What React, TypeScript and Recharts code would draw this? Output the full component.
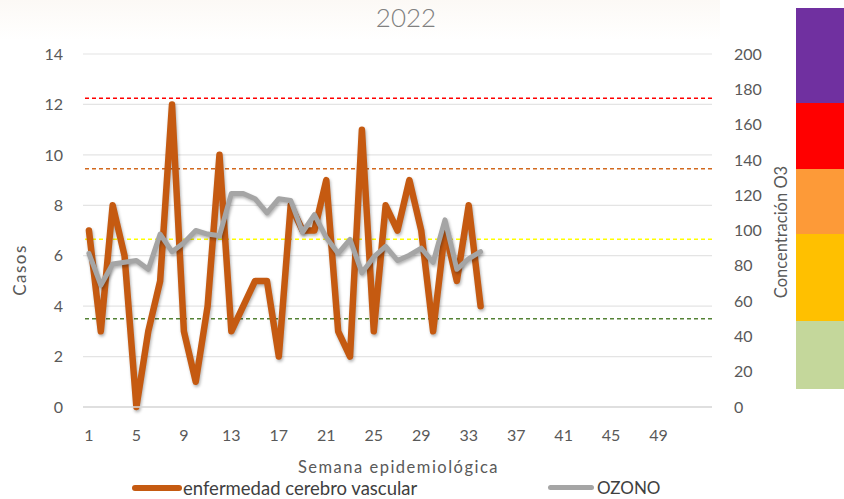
import React from 'react';
import {
  ComposedChart,
  Line,
  XAxis,
  YAxis,
  CartesianGrid,
  ReferenceLine,
  Legend,
} from 'recharts';

// semana epidemiológica 2022
const semanas = [
  1, 2, 3, 4, 5, 6, 7, 8, 9, 10, 11, 12, 13, 14, 15, 16, 17,
  18, 19, 20, 21, 22, 23, 24, 25, 26, 27, 28, 29, 30, 31, 32, 33, 34,
];
const casos = [
  7, 3, 8, 6, 0, 3, 5, 12, 3, 1, 4, 10, 3, 4, 5, 5, 2,
  8, 7, 7, 9, 3, 2, 11, 3, 8, 7, 9, 7, 3, 7, 5, 8, 4,
];
const ozono = [
  87, 69, 81, 82, 83, 78, 98, 88, 93, 100, 98, 97, 121, 121, 118, 110, 118,
  117, 99, 109, 96, 87, 95, 76, 85, 91, 83, 86, 90, 82, 106, 78, 84, 88,
];

const ticksSemana = [1, 5, 9, 13, 17, 21, 25, 29, 33, 37, 41, 45, 49];
const ticksCasos = [0, 2, 4, 6, 8, 10, 12, 14];
const ticksO3 = [0, 20, 40, 60, 80, 100, 120, 140, 160, 180, 200];

// límites de concentración O3 (líneas punteadas)
const limitesO3 = [50, 95, 135, 175];
const coloresLimites = ['#548235', '#ffff00', '#d2691e', '#ff0000'];

// barra de colores a la derecha (bordes en unidades de O3)
const bordesBarra = [10, 49, 98, 135, 172, 226];
const coloresBarra = ['#c4d79b', '#ffc000', '#fd9a38', '#ff0000', '#7030a0'];

const data = semanas.map((s, i) => ({ semana: s, casos: casos[i], ozono: ozono[i] }));

const fuente = 'Lato, "Noto Sans", sans-serif';
const gris = '#595959';

// y de la escala derecha (0 -> 407, 200 -> 54)
const yO3 = (v: number) => 407 - (v * 353) / 200;

const LeyendaCustom = () => (
  <div style={{ position: 'relative', width: 844, height: 22, fontFamily: fuente, fontSize: 18.5, color: '#404040' }}>
    <div style={{ position: 'absolute', left: 132, top: 8, width: 50, height: 6, borderRadius: 3, background: '#c55a11' }} />
    <span style={{ position: 'absolute', left: 183, top: 0, lineHeight: '22px' }}>enfermedad cerebro vascular</span>
    <div style={{ position: 'absolute', left: 548, top: 8, width: 46, height: 5, borderRadius: 3, background: '#a5a5a5' }} />
    <span style={{ position: 'absolute', left: 597, top: 0, lineHeight: '22px', fontSize: 17 }}>OZONO</span>
  </div>
);

export default function App() {
  return (
    <div style={{ position: 'absolute', left: 0, top: 0, width: 844, height: 499, background: '#fff', overflow: 'hidden' }}>
      <style>{`.sombra .recharts-curve { filter: drop-shadow(1.5px 2px 1.5px rgba(0,0,0,0.3)); }`}</style>
      <div style={{ position: 'absolute', left: 0, top: 0, width: 720, height: 40, background: 'linear-gradient(#faf5ef, #ffffff)', opacity: 0.6 }} />
      <div
        style={{
          position: 'absolute', left: 0, width: 812, top: 0, height: 34, lineHeight: '34px',
          textAlign: 'center', fontFamily: fuente, fontWeight: 300, fontSize: 26, color: '#808080',
        }}
      >
        2022
      </div>
      {coloresBarra.map((c, i) => (
        <div
          key={c}
          style={{
            position: 'absolute', left: 796, width: 48,
            top: yO3(bordesBarra[i + 1]), height: yO3(bordesBarra[i]) - yO3(bordesBarra[i + 1]),
            background: c,
          }}
        />
      ))}
      <ComposedChart
        width={844}
        height={499}
        data={data}
        margin={{ top: 54, right: 48, bottom: 0, left: 0 }}
        style={{ position: 'absolute', left: 0, top: 0 }}
      >
        <CartesianGrid vertical={false} yAxisId="casos" stroke="#e4e4e4" strokeWidth={1.2} />
        <XAxis
          dataKey="semana"
          type="number"
          domain={[0.5, 53.5]}
          ticks={ticksSemana}
          interval={0}
          tickLine={false}
          tickSize={0}
          tickMargin={23}
          axisLine={{ stroke: '#d9d9d9', strokeWidth: 1.5 }}
          tick={{ fill: gris, fontSize: 16, fontFamily: fuente }}
          height={70}
          label={{
            content: ({ viewBox }: any) => (
              <text
                x={viewBox.x + viewBox.width / 2 + 1}
                y={viewBox.y + 60}
                textAnchor="middle"
                dominantBaseline="central"
                fill={gris}
                fontSize={16.5}
                fontFamily={fuente}
                letterSpacing={1.5}
              >
                Semana epidemiológica
              </text>
            ),
          }}
        />
        <YAxis
          yAxisId="casos"
          domain={[0, 14]}
          ticks={ticksCasos}
          width={83}
          axisLine={false}
          tickLine={false}
          tickSize={0}
          tickMargin={20}
          tick={{ fill: gris, fontSize: 16, fontFamily: fuente }}
          label={{
            content: ({ viewBox }: any) => (
              <text
                x={viewBox.x + 19}
                y={270}
                transform={`rotate(-90 ${viewBox.x + 19} 270)`}
                textAnchor="middle"
                dominantBaseline="central"
                fill={gris}
                fontSize={17}
                fontFamily={fuente}
                letterSpacing={1.5}
              >
                Casos
              </text>
            ),
          }}
        />
        <YAxis
          yAxisId="o3"
          orientation="right"
          domain={[0, 200]}
          ticks={ticksO3}
          width={84}
          axisLine={false}
          tickLine={false}
          tickSize={0}
          tickMargin={22}
          tick={{ fill: gris, fontSize: 16, fontFamily: fuente }}
          label={{
            content: ({ viewBox }: any) => (
              <text
                x={viewBox.x + 69}
                y={232}
                transform={`rotate(-90 ${viewBox.x + 69} 232)`}
                textAnchor="middle"
                dominantBaseline="central"
                fill={gris}
                fontSize={16.5}
                fontFamily={fuente}
              >
                Concentración O3
              </text>
            ),
          }}
        />
        {limitesO3.map((v, i) => (
          <ReferenceLine
            key={v}
            yAxisId="o3"
            y={v}
            stroke={coloresLimites[i]}
            strokeWidth={1.5}
            strokeDasharray="4 3"
          />
        ))}
        <Line
          yAxisId="casos"
          dataKey="casos"
          name="enfermedad cerebro vascular"
          className="sombra"
          stroke="#c55a11"
          strokeWidth={6.5}
          strokeLinejoin="round"
          strokeLinecap="round"
          dot={false}
          activeDot={false}
          isAnimationActive={false}
        />
        <Line
          yAxisId="o3"
          dataKey="ozono"
          name="OZONO"
          className="sombra"
          stroke="#a5a5a5"
          strokeWidth={5}
          strokeLinejoin="round"
          strokeLinecap="round"
          dot={false}
          activeDot={false}
          isAnimationActive={false}
        />
        <Legend
          verticalAlign="bottom"
          content={() => <LeyendaCustom />}
          wrapperStyle={{ left: 0, bottom: 0, width: 844, height: 22 }}
        />
      </ComposedChart>
    </div>
  );
}
